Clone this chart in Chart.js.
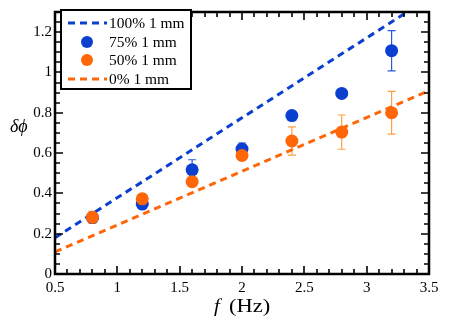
<!DOCTYPE html>
<html>
<head>
<meta charset="utf-8">
<script src="https://cdn.jsdelivr.net/npm/chart.js@4/dist/chart.umd.min.js"></script>
<style>
  html, body { margin: 0; padding: 0; background: #fff; }
  #wrap { width: 450px; height: 318px; }
</style>
</head>
<body>
<div id="wrap"><canvas id="phaseChart"></canvas></div>
<script>
// measured data
const freqs = [0.8, 1.2, 1.6, 2.0, 2.4, 2.8, 3.2];
const phase75 = [0.28, 0.347, 0.517, 0.62, 0.786, 0.896, 1.108];
const err75 = [0.01, 0, 0.05, 0.03, 0, 0, 0.1];
const phase50 = [0.281, 0.373, 0.458, 0.588, 0.66, 0.704, 0.80];
const err50 = [0.03, 0.01, 0, 0.02, 0.07, 0.085, 0.106];

// model lines
const lineX = [0.5, 3.5];
const line100 = [0.18, 1.37];
const line0 = [0.11, 0.91];

const seriesLabels = ['100% 1 mm', '75% 1 mm', '50% 1 mm', '0% 1 mm'];

const BLUE = '#0b3fd0';
const ORANGE = '#ff6608';
const SERIF = '"Liberation Serif", "DejaVu Serif", serif';

const pts = (xs, ys) => xs.map((x, i) => ({ x: x, y: ys[i] }));

// text stretched sideways a bit, like the original figure
function wideText(ctx, txt, x, y, sx) {
    ctx.save();
    ctx.translate(x, y);
    ctx.scale(sx, 1);
    ctx.fillText(txt, 0, 0);
    ctx.restore();
}

// error bars, drawn behind the markers
const errorBars = {
    id: 'errorBars',
    beforeDatasetsDraw(chart) {
        const { ctx, scales: { x, y } } = chart;
        const sets = [[phase75, err75, '#2a5ad8'], [phase50, err50, '#ffa040']];
        ctx.save();
        ctx.lineWidth = 1.2;
        sets.forEach(([vals, errs, col]) => {
            ctx.strokeStyle = col;
            freqs.forEach((f, i) => {
                if (!errs[i]) return;
                const px = x.getPixelForValue(f);
                const top = y.getPixelForValue(vals[i] + errs[i]);
                const bot = y.getPixelForValue(vals[i] - errs[i]);
                ctx.beginPath();
                ctx.moveTo(px, top); ctx.lineTo(px, bot);
                ctx.moveTo(px - 4, top); ctx.lineTo(px + 4, top);
                ctx.moveTo(px - 4, bot); ctx.lineTo(px + 4, bot);
                ctx.stroke();
            });
        });
        ctx.restore();
    }
};

// frame, inward ticks, titles and legend box
const frame = {
    id: 'frame',
    afterDatasetsDraw(chart) {
        const { ctx, chartArea: a, scales: { x, y } } = chart;
        ctx.save();
        ctx.strokeStyle = '#000';
        ctx.lineWidth = 1.6;
        ctx.beginPath();
        for (let v = 0.5; v <= 3.5001; v += 0.1) {
            const px = Math.round(x.getPixelForValue(v));
            const major = Math.abs(v * 2 - Math.round(v * 2)) < 1e-6;
            const len = major ? 8 : 5;
            ctx.moveTo(px, a.bottom); ctx.lineTo(px, a.bottom - len);
            ctx.moveTo(px, a.top); ctx.lineTo(px, a.top + len);
        }
        for (let v = 0; v <= 1.3001; v += 0.05) {
            const py = Math.round(y.getPixelForValue(v));
            const major = Math.abs(v * 5 - Math.round(v * 5)) < 1e-6;
            const len = major ? 8 : 5;
            ctx.moveTo(a.left, py); ctx.lineTo(a.left + len, py);
            ctx.moveTo(a.right, py); ctx.lineTo(a.right - len, py);
        }
        ctx.stroke();
        ctx.lineWidth = 2.5;
        ctx.strokeRect(a.left, a.top, a.right - a.left, a.bottom - a.top);

        // axis titles
        ctx.fillStyle = '#000';
        ctx.textBaseline = 'middle';
        ctx.textAlign = 'left';
        ctx.font = 'italic 18px ' + SERIF;
        wideText(ctx, '\u03b4\u03d5', 10, 127, 1.0);
        ctx.font = 'italic 18px ' + SERIF;
        wideText(ctx, 'f', 214, 307, 1.15);
        ctx.font = '18px ' + SERIF;
        wideText(ctx, '(Hz)', 229, 307, 1.25);

        // legend
        const lx = 61, ly = 10, lw = 130, lh = 79;
        ctx.fillStyle = '#fff';
        ctx.fillRect(lx, ly, lw, lh);
        ctx.lineWidth = 2;
        ctx.strokeRect(lx, ly, lw, lh);
        const rows = [23, 42, 60, 79];
        const kinds = ['line', 'dot', 'dot', 'line'];
        const cols = [BLUE, BLUE, ORANGE, ORANGE];
        rows.forEach((ry, i) => {
            if (kinds[i] === 'line') {
                ctx.strokeStyle = cols[i];
                ctx.lineWidth = 3;
                ctx.setLineDash([7, 5]);
                ctx.beginPath();
                ctx.moveTo(68, ry); ctx.lineTo(107, ry);
                ctx.stroke();
                ctx.setLineDash([]);
            } else {
                ctx.fillStyle = cols[i];
                ctx.beginPath();
                ctx.arc(87, ry, 6, 0, Math.PI * 2);
                ctx.fill();
            }
            ctx.fillStyle = '#000';
            ctx.font = '15px ' + SERIF;
            wideText(ctx, seriesLabels[i], 109, ry + 1, 1.03);
        });
        ctx.restore();
    }
};

new Chart(document.getElementById('phaseChart'), {
    type: 'scatter',
    data: {
        datasets: [
            {
                label: seriesLabels[0],
                data: pts(lineX, line100),
                showLine: true,
                borderColor: BLUE,
                borderWidth: 3,
                borderDash: [7, 5],
                pointRadius: 0,
                clip: 0,
                order: 3
            },
            {
                label: seriesLabels[1],
                data: pts(freqs, phase75),
                backgroundColor: BLUE,
                borderWidth: 0,
                pointRadius: 6.5,
                order: 2
            },
            {
                label: seriesLabels[2],
                data: pts(freqs, phase50),
                backgroundColor: ORANGE,
                borderWidth: 0,
                pointRadius: 6.5,
                order: 1
            },
            {
                label: seriesLabels[3],
                data: pts(lineX, line0),
                showLine: true,
                borderColor: ORANGE,
                borderWidth: 3,
                borderDash: [7, 5],
                pointRadius: 0,
                clip: 0,
                order: 4
            }
        ]
    },
    options: {
        responsive: true,
        maintainAspectRatio: false,
        animation: false,
        layout: { padding: { left: 0, top: 4, right: 21, bottom: 0 } },
        plugins: {
            legend: { display: false },
            tooltip: { enabled: false }
        },
        scales: {
            x: {
                type: 'linear',
                min: 0.5,
                max: 3.5,
                grid: { display: false, drawTicks: false },
                border: { display: false },
                ticks: {
                    stepSize: 0.5,
                    includeBounds: false,
                    padding: 5,
                    color: '#000',
                    font: { family: SERIF, size: 15 },
                    callback: v => String(+v.toFixed(1))
                },
                afterFit: s => { s.height = 44; }
            },
            y: {
                min: 0,
                max: 1.3,
                grid: { display: false, drawTicks: false },
                border: { display: false },
                ticks: {
                    stepSize: 0.2,
                    includeBounds: false,
                    padding: 3,
                    color: '#000',
                    font: { family: SERIF, size: 15 },
                    callback: v => String(+v.toFixed(1))
                },
                afterFit: s => { s.width = 55; }
            }
        }
    },
    plugins: [errorBars, frame]
});
</script>
</body>
</html>
